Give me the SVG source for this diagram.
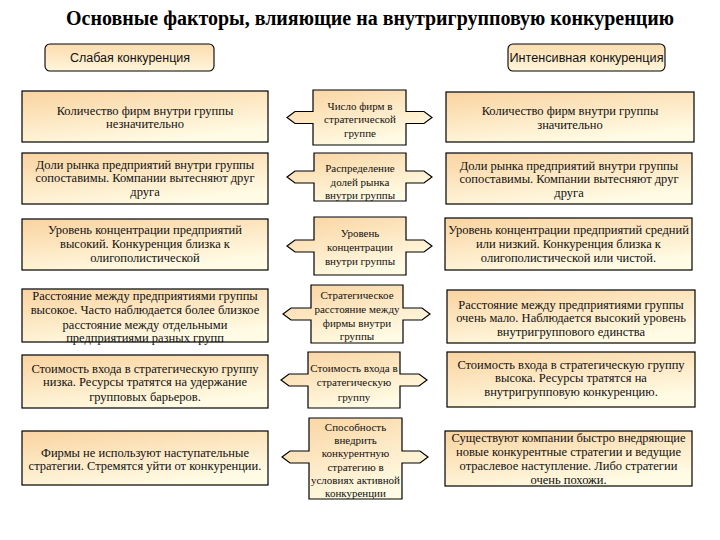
<svg xmlns="http://www.w3.org/2000/svg" width="720" height="540" viewBox="0 0 720 540">
<defs>
<linearGradient id="g" x1="0" y1="0" x2="0.5" y2="1">
<stop offset="0" stop-color="#fad3a0"/>
<stop offset="1" stop-color="#fffbe4"/>
</linearGradient>
<linearGradient id="gh" x1="0" y1="0" x2="0" y2="1">
<stop offset="0" stop-color="#fbdcae"/>
<stop offset="1" stop-color="#fff6dc"/>
</linearGradient>
<style>
.bx{fill:url(#g);stroke:#000;stroke-width:1.2}
.hd{fill:url(#gh);stroke:#000;stroke-width:1.1}
.t{font-family:"Liberation Serif","Times New Roman",serif;font-size:12.5px;fill:#111;text-anchor:middle}
.m{font-family:"Liberation Serif","Times New Roman",serif;font-size:11px;fill:#111;text-anchor:middle}
.h{font-family:"Liberation Sans",Arial,sans-serif;font-size:12.5px;fill:#111;text-anchor:middle}
.ti{font-family:"Liberation Serif","Times New Roman",serif;font-size:20px;font-weight:bold;fill:#000;text-anchor:middle}
</style>
</defs>
<rect width="720" height="540" fill="#fff"/>
<text class="ti" x="370" y="25" textLength="608" lengthAdjust="spacingAndGlyphs">Основные факторы, влияющие на внутригрупповую конкуренцию</text>

<g id="header-weak"><rect class="hd" x="45" y="44" width="169" height="27" rx="5"/><text class="h" x="130" y="62">Слабая конкуренция</text></g>
<g id="header-intense"><rect class="hd" x="508" y="44" width="157" height="27" rx="5"/><text class="h" x="586.5" y="62" textLength="154" lengthAdjust="spacingAndGlyphs">Интенсивная конкуренция</text></g>

<g id="connectors"/>

<g id="left-1"><rect class="bx" x="22" y="91" width="246" height="51"/><text class="t" x="145" y="115">Количество фирм внутри группы</text><text class="t" x="145" y="128">незначительно</text></g>
<g id="left-2"><rect class="bx" x="22" y="153" width="246" height="51"/><text class="t" x="145" y="169">Доли рынка предприятий внутри группы</text><text class="t" x="145" y="182">сопоставимы. Компании вытесняют друг</text><text class="t" x="145" y="196">друга</text></g>
<g id="left-3"><rect class="bx" x="22" y="219" width="246" height="51"/><text class="t" x="145" y="234">Уровень концентрации предприятий</text><text class="t" x="145" y="248">высокий. Конкуренция близка к</text><text class="t" x="145" y="262">олигополистической</text></g>
<g id="left-4"><rect class="bx" x="22" y="289" width="246" height="53"/><text class="t" x="145" y="300">Расстояние между предприятиями группы</text><text class="t" x="145" y="314">высокое. Часто наблюдается более близкое</text><text class="t" x="145" y="329">расстояние между отдельными</text><text class="t" x="145" y="342">предприятиями разных групп</text></g>
<g id="left-5"><rect class="bx" x="22" y="355" width="246" height="53"/><text class="t" x="145" y="373">Стоимость входа в стратегическую группу</text><text class="t" x="145" y="386">низка. Ресурсы тратятся на удержание</text><text class="t" x="145" y="401">групповых барьеров.</text></g>
<g id="left-6"><rect class="bx" x="22" y="431" width="246" height="54"/><text class="t" x="145" y="457">Фирмы не используют наступательные</text><text class="t" x="145" y="470">стратегии. Стремятся уйти от конкуренции.</text></g>

<g id="mid-1"><path class="bx" d="M313 90H406V111.5H424L432 117.5L424 123.5H406V145H313V123.5H295L287 117.5L295 111.5H313Z"/><text class="m" x="360" y="110">Число фирм в</text><text class="m" x="360" y="123">стратегической</text><text class="m" x="360" y="137">группе</text></g>
<g id="mid-2"><path class="bx" d="M314 153H406V171H424L432 177L424 183H406V201H314V183H295L287 177L295 171H314Z"/><text class="m" x="360" y="172">Распределение</text><text class="m" x="360" y="186">долей рынка</text><text class="m" x="360" y="199">внутри группы</text></g>
<g id="mid-3"><path class="bx" d="M314 217H406V240H424L432 246L424 252H406V275H314V252H295L287 246L295 240H314Z"/><text class="m" x="360" y="237">Уровень</text><text class="m" x="360" y="251">концентрации</text><text class="m" x="360" y="265">внутри группы</text></g>
<g id="mid-4"><path class="bx" d="M311 285H403V308H422L430 314L422 320H403V343H311V320H291L283 314L291 308H311Z"/><text class="m" x="357" y="299">Стратегическое</text><text class="m" x="357" y="313">расстояние между</text><text class="m" x="357" y="327">фирмы внутри</text><text class="m" x="357" y="340">группы</text></g>
<g id="mid-5"><path class="bx" d="M308 352H400V374H419L427 380L419 386H400V408H308V386H289L281 380L289 374H308Z"/><text class="m" x="354" y="372">Стоимость входа в</text><text class="m" x="354" y="386">стратегическую</text><text class="m" x="354" y="401">группу</text></g>
<g id="mid-6"><path class="bx" d="M309 418H402V451H420L428 457L420 463H402V499H309V463H290L282 457L290 451H309Z"/><text class="m" x="355.5" y="431">Способность</text><text class="m" x="355.5" y="444">внедрить</text><text class="m" x="355.5" y="457">конкурентную</text><text class="m" x="355.5" y="471">стратегию в</text><text class="m" x="355.5" y="484">условиях активной</text><text class="m" x="355.5" y="497">конкуренции</text></g>

<g id="right-1"><rect class="bx" x="446" y="92" width="248" height="50"/><text class="t" x="570" y="115">Количество фирм внутри группы</text><text class="t" x="570" y="129">значительно</text></g>
<g id="right-2"><rect class="bx" x="446" y="153" width="246" height="51"/><text class="t" x="569" y="170">Доли рынка предприятий внутри группы</text><text class="t" x="569" y="183">сопоставимы. Компании вытесняют друг</text><text class="t" x="569" y="197">друга</text></g>
<g id="right-3"><rect class="bx" x="445" y="218" width="247" height="52"/><text class="t" x="568.5" y="234">Уровень концентрации предприятий средний</text><text class="t" x="568.5" y="248">или низкий. Конкуренция близка к</text><text class="t" x="568.5" y="262">олигополистической или чистой.</text></g>
<g id="right-4"><rect class="bx" x="447" y="290" width="248" height="53"/><text class="t" x="571" y="309">Расстояние между предприятиями группы</text><text class="t" x="571" y="322">очень мало. Наблюдается высокий уровень</text><text class="t" x="571" y="336">внутригруппового единства</text></g>
<g id="right-5"><rect class="bx" x="447" y="352" width="248" height="55"/><text class="t" x="571" y="369">Стоимость входа в стратегическую группу</text><text class="t" x="571" y="382">высока. Ресурсы тратятся на</text><text class="t" x="571" y="396">внутригрупповую конкуренцию.</text></g>
<g id="right-6"><rect class="bx" x="445" y="431" width="247" height="55"/><text class="t" x="568.5" y="442">Существуют компании быстро внедряющие</text><text class="t" x="568.5" y="456">новые конкурентные стратегии и ведущие</text><text class="t" x="568.5" y="470">отраслевое наступление. Либо стратегии</text><text class="t" x="568.5" y="484">очень похожи.</text></g>
</svg>
